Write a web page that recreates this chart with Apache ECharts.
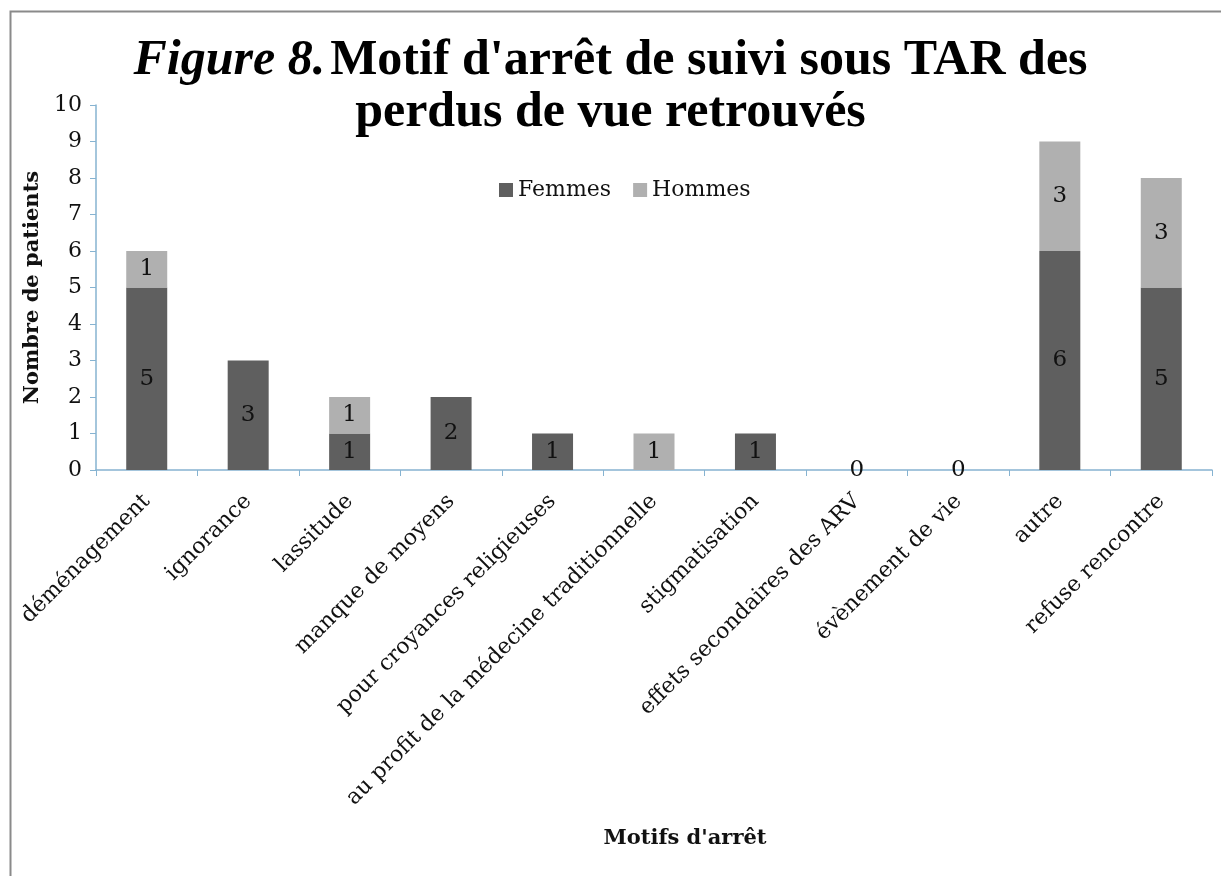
<!DOCTYPE html>
<html>
<head>
<meta charset="utf-8">
<script src="https://cdn.jsdelivr.net/npm/echarts@6/dist/echarts.min.js"></script>
<style>
  html, body { margin: 0; padding: 0; background: #fff; }
  #chart { width: 1221px; height: 876px; }
</style>
</head>
<body>
<div id="chart"></div>
<script>
// data
const motifs = ['déménagement', 'ignorance', 'lassitude', 'manque de moyens',
  'pour croyances religieuses', 'au profit de la médecine traditionnelle',
  'stigmatisation', 'effets secondaires des ARV', 'évènement de vie', 'autre', 'refuse rencontre'];
const femmes = [5, 3, 1, 2, 1, 0, 1, 0, 0, 6, 5];
const hommes = [1, 0, 1, 0, 0, 1, 0, 0, 0, 3, 3];
const yTicks = [0, 10, 1];

const titleFont = '"Liberation Serif", serif';
const serif = '"DejaVu Serif", "Liberation Serif", serif';
const axisBlue = '#86b3d1';

let chart = echarts.init(document.getElementById('chart'));

let option = {
  backgroundColor: '#fff',
  animation: false,
  title: {
    left: 'center',
    top: 30,
    text: "{i|Figure 8.} {b|Motif d'arrêt de suivi sous TAR des}\n{b|perdus de vue retrouvés}",
    textStyle: {
      rich: {
        i: { fontFamily: titleFont, fontSize: 50, fontWeight: 'bold', fontStyle: 'italic', color: '#000', lineHeight: 52 },
        b: { fontFamily: titleFont, fontSize: 50, fontWeight: 'bold', color: '#000', lineHeight: 52 }
      }
    }
  },
  legend: {
    top: 174,
    left: 494,
    itemWidth: 14,
    itemHeight: 14,
    itemGap: 22,
    icon: 'rect',
    textStyle: { fontFamily: serif, fontSize: 22, color: '#111' },
    data: ['Femmes', 'Hommes']
  },
  grid: { left: 96, right: 9, top: 105, bottom: 406 },
  xAxis: {
    type: 'category',
    data: motifs,
    name: "Motifs d'arrêt",
    nameLocation: 'middle',
    nameGap: 358,
    nameTextStyle: { fontFamily: serif, fontSize: 21, fontWeight: 'bold', color: '#111', padding: [0, 0, 0, 62] },
    axisLine: { lineStyle: { color: axisBlue, width: 1.5 } },
    axisTick: { show: true, length: 6, lineStyle: { color: axisBlue } },
    axisLabel: { rotate: 45, interval: 0, margin: 28, fontFamily: serif, fontSize: 22, color: '#111' }
  },
  yAxis: {
    type: 'value',
    min: yTicks[0],
    max: yTicks[1],
    interval: yTicks[2],
    name: 'Nombre de patients',
    nameLocation: 'middle',
    nameGap: 51,
    nameTextStyle: { fontFamily: serif, fontSize: 21, fontWeight: 'bold', color: '#111' },
    splitLine: { show: false },
    axisLine: { show: true, lineStyle: { color: axisBlue, width: 1.5 } },
    axisTick: { show: true, length: 6, lineStyle: { color: axisBlue } },
    axisLabel: { margin: 14, fontFamily: serif, fontSize: 22, color: '#111' }
  },
  series: [
    {
      name: 'Femmes',
      type: 'bar',
      stack: 'total',
      barWidth: 41,
      data: femmes,
      itemStyle: { color: '#5f5f5f' },
      label: {
        show: true,
        position: 'inside',
        fontFamily: serif,
        fontSize: 23,
        color: '#111',
        formatter: p => (p.value > 0 || hommes[p.dataIndex] === 0) ? String(p.value) : ''
      }
    },
    {
      name: 'Hommes',
      type: 'bar',
      stack: 'total',
      barWidth: 41,
      data: hommes,
      itemStyle: { color: '#b0b0b0' },
      label: {
        show: true,
        position: 'inside',
        fontFamily: serif,
        fontSize: 23,
        color: '#111',
        formatter: p => p.value > 0 ? String(p.value) : ''
      }
    }
  ],
  graphic: [{
    type: 'rect',
    left: 8, top: 9,
    shape: { width: 1240, height: 900 },
    style: { fill: 'none', stroke: '#8a8a8a', lineWidth: 2 },
    silent: true
  }]
};

chart.setOption(option);
</script>
</body>
</html>
